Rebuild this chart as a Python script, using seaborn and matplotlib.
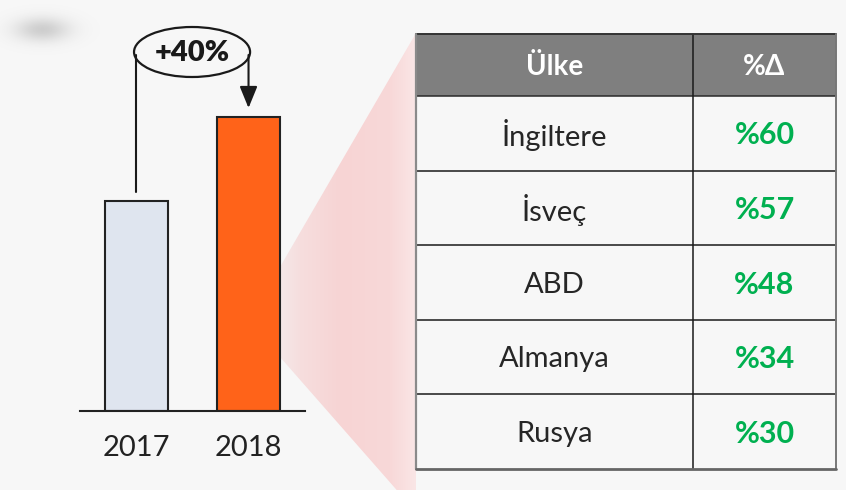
import numpy as np
import pandas as pd
import matplotlib
matplotlib.use("Agg")
import matplotlib.pyplot as plt
from matplotlib.patches import Ellipse, Rectangle, Polygon
import seaborn as sns

# Data
years = ["2017", "2018"]
totals = [100, 140]
growth_label = "+40%"
countries = ["İngiltere", "İsveç", "ABD", "Almanya", "Rusya"]
changes = [60, 57, 48, 34, 30]
headers = ["Ülke", "%Δ"]

sns.set_theme(style="white")
plt.rcParams["font.family"] = ["Lato", "DejaVu Sans"]

BG = "#f7f7f7"
W, H = 846, 490
fig = plt.figure(figsize=(W / 100, H / 100), dpi=100)
fig.patch.set_facecolor(BG)

# Background layer in pixel coordinates
bg = fig.add_axes([0, 0, 1, 1], zorder=0)
bg.set_xlim(0, W)
bg.set_ylim(H, 0)
bg.axis("off")

# Soft grey blob, top-left
yy, xx = np.mgrid[0:90, 0:130]
g = np.exp(-(((xx - 42) / 27.0) ** 2 + ((yy - 29) / 12.0) ** 2))
blob = np.zeros((90, 130, 4))
blob[..., :3] = 0.55
blob[..., 3] = 0.38 * g
bg.imshow(blob, extent=(0, 130, 90, 0), interpolation="bilinear", zorder=1)

# Pink gradient wedge from the 2018 bar to the table
stops_x = [280, 300, 340, 390, 416]
stops_c = np.array([[244, 232, 232], [246, 222, 222], [247, 212, 212],
                    [248, 216, 216], [250, 230, 230]]) / 255.0
gx = np.linspace(280, 416, 200)
grad = np.stack([np.interp(gx, stops_x, stops_c[:, k]) for k in range(3)], axis=-1)[None, :, :]
im = bg.imshow(grad, extent=(280, 416, H + 30, 0), aspect="auto", zorder=1)
wedge = Polygon([(280, 267), (416, 33), (416, 512), (280, 357)], closed=True,
                transform=bg.transData, facecolor="none", edgecolor="none")
bg.add_patch(wedge)
im.set_clip_path(wedge)

# Table
x0, xm, x1 = 416, 693, 836
y_top, y_head = 34, 96
y_bot = 469
n = len(countries)
row_h = (y_bot - y_head) / n

bg.add_patch(Rectangle((x0, y_top), x1 - x0, y_head - y_top, facecolor="#7f7f7f",
                       edgecolor="none", zorder=2))
bg.add_patch(Rectangle((x0, y_head), x1 - x0, y_bot - y_head, facecolor=BG,
                       edgecolor="none", zorder=2))
for i in range(1, n):
    y = y_head + i * row_h
    bg.plot([x0, x1], [y, y], color="#1a1a1a", lw=1.1, zorder=3)
bg.plot([x0, x1], [y_head, y_head], color="#2a2a2a", lw=1.1, zorder=3)
bg.plot([xm, xm], [y_top, y_bot], color="#1a1a1a", lw=1.1, zorder=3)
bg.plot([x0, x1], [y_top, y_top], color="#333333", lw=1.4, zorder=4)
bg.plot([x0, x0], [y_top, y_bot], color="#8a8a8a", lw=1.6, zorder=4)
bg.plot([x1, x1], [y_top, y_bot], color="#777777", lw=1.4, zorder=4)
bg.plot([x0, x1], [y_bot, y_bot], color="#666666", lw=2.0, zorder=4)

cx_name = (x0 + xm) / 2
cx_val = (xm + x1) / 2
bg.text(cx_name, (y_top + y_head) / 2 + 2, headers[0], ha="center", va="center",
        color="white", fontsize=20, fontweight="bold", zorder=5)
bg.text(cx_val, (y_top + y_head) / 2 + 2, headers[1], ha="center", va="center",
        color="white", fontsize=20, fontweight="bold", zorder=5)
for i, (c, v) in enumerate(zip(countries, changes)):
    yc = y_head + (i + 0.5) * row_h + 2
    bg.text(cx_name, yc, c, ha="center", va="center", color="#262626",
            fontsize=21, fontweight="normal", zorder=5)
    bg.text(cx_val, yc, f"%{v}", ha="center", va="center", color="#00b050",
            fontsize=22, fontweight="bold", zorder=5)

# Bar chart axes
bx0, bx1, by0, by1 = 80, 305, 411, 27
ax = fig.add_axes([bx0 / W, (H - by0) / H, (bx1 - bx0) / W, (by0 - by1) / H], zorder=2)
ax.patch.set_alpha(0)
df = pd.DataFrame({"year": years, "total": totals})
sns.barplot(data=df, x="year", y="total", hue="year", palette=["#dfe5ef", "#ff6319"],
            legend=False, width=0.5625, edgecolor="#222222", linewidth=1.5,
            saturation=1, ax=ax)
px_per_unit = totals[1] / (by0 - 117)
ymax = (by0 - by1) * px_per_unit
ax.set_ylim(0, ymax)
ax.set_xlim(-0.504, 1.504)
for s in ["top", "right", "left"]:
    ax.spines[s].set_visible(False)
ax.spines["bottom"].set_color("#222222")
ax.spines["bottom"].set_linewidth(1.5)
ax.set_yticks([])
ax.set_xlabel("")
ax.set_ylabel("")
ax.tick_params(axis="x", length=0, labelsize=21, pad=17, labelcolor="#222222")

# Growth callout: ellipse with connector line and arrow
u = px_per_unit
ell_cx, ell_cy = 0.496, ymax - 25 * u
ell_w, ell_h = 116 / 112, 50 * u
ax.add_patch(Ellipse((ell_cx, ell_cy), ell_w, ell_h, facecolor="none",
                     edgecolor="#1a1a1a", lw=1.6, clip_on=False, zorder=5))
ax.text(ell_cx, ell_cy - 1.0 * u, growth_label, ha="center", va="center",
        fontsize=21, fontweight="heavy", color="#1a1a1a", zorder=6)
ax.plot([0, 0], [ell_cy - 3 * u, totals[0] + 9 * u], color="#1a1a1a", lw=1.5,
        clip_on=False, zorder=5)
ax.annotate("", xy=(1, totals[1] + 9 * u), xytext=(1, ell_cy - 3 * u),
            arrowprops=dict(arrowstyle="-|>,head_length=1.1,head_width=0.45",
                            color="#1a1a1a", lw=1.5, shrinkA=0, shrinkB=0),
            annotation_clip=False, zorder=5)

fig.savefig("out.png", dpi=100, facecolor=BG)
